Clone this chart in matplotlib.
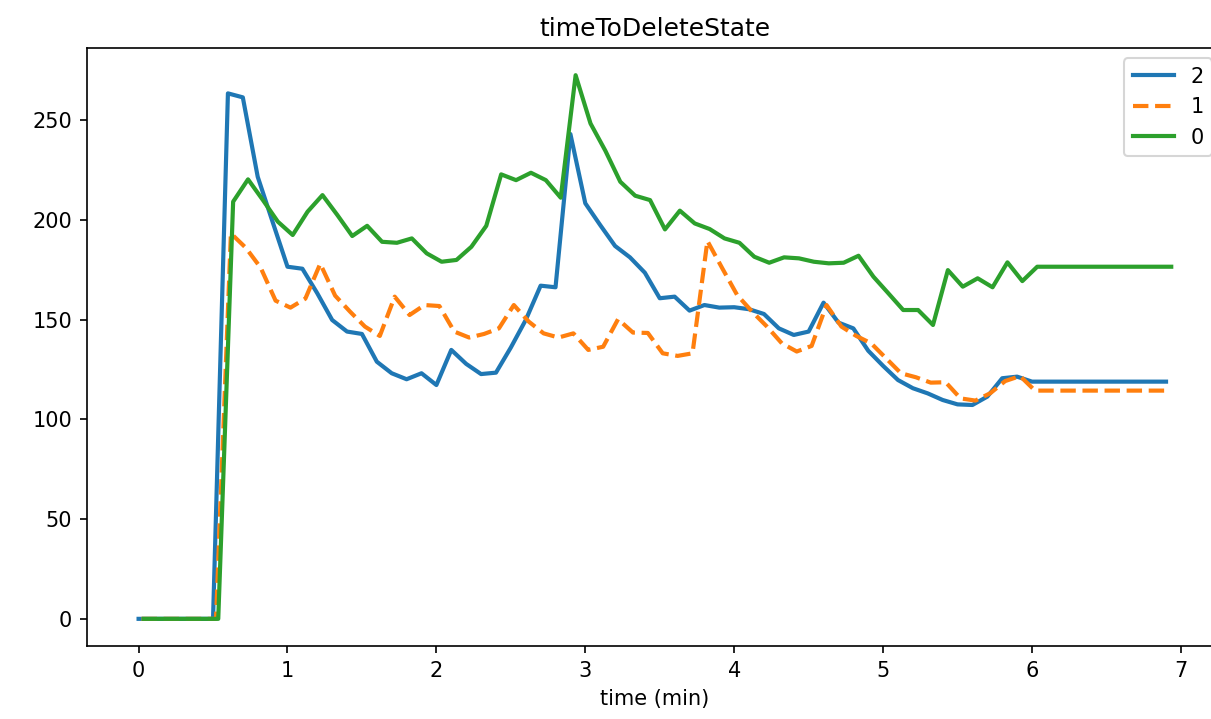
import numpy as np
import matplotlib
matplotlib.use('Agg')
import matplotlib.pyplot as plt

# Sample spacing is 0.1 min; each series has its own small start offset
step = 0.1
offset_2 = 0.0
offset_1 = 0.02
offset_0 = 0.035

# Series "2" (blue, solid)
vals_2 = [0, 0, 0, 0, 0, 0,
          263.4, 261.4, 221.6, 199, 176.5, 175.5, 163.2, 149.8, 144, 142.8,
          128.9, 123.1, 120.1, 123.1, 117.2, 134.8, 127.8, 122.7, 123.4, 136,
          149.8, 167, 166.2, 243, 208.3, 197.4, 186.9, 181.2, 173.5, 160.7,
          161.5, 154.5, 157.3, 156, 156.2, 155.2, 152.8, 145.6, 142.3, 144,
          158.5, 148.5, 145.6, 134.4, 126.8, 119.7, 115.6, 113, 109.7, 107.5,
          107.2, 111.4, 120.6, 121.4,
          118.9, 118.9, 118.9, 118.9, 118.9, 118.9, 118.9, 118.9, 118.9, 118.9]

# Series "1" (orange, dashed)
vals_1 = [0, 0, 0, 0, 0, 0,
          193.2, 186, 176, 159.5, 156, 160.5, 178, 162, 154, 146.5,
          141.8, 161.5, 152.3, 157.3, 156.8, 144, 141, 142.8, 145.6, 157.3,
          149, 143.1, 141, 143.1, 134.8, 136.4, 150.2, 143.5, 143.3, 133.1,
          131.8, 133.1, 189.4, 175.7, 162.3, 154, 146.5, 138.1, 134, 136.8,
          157.3, 146.5, 141.8, 138.1, 130.6, 123.1, 121.1, 118.4, 118.6, 110.5,
          109.4, 113.1, 119.2, 121.7,
          114.4, 114.4, 114.4, 114.4, 114.4, 114.4, 114.4, 114.4, 114.4, 114.4]

# Series "0" (green, solid)
vals_0 = [0, 0, 0, 0, 0, 0,
          209.1, 220.3, 209.9, 199.1, 192.4, 204.1, 212.4, 202.4, 191.9, 197,
          189, 188.5, 190.7, 183.2, 179, 179.9, 186.5, 197, 222.8, 219.9,
          223.6, 219.9, 211.1, 272.5, 248.3, 234.6, 219.1, 212.1, 209.9, 195.2,
          204.6, 198.2, 195.4, 190.7, 188.5, 181.5, 178.5, 181.2, 180.7, 179,
          178.2, 178.5, 182, 171.5, 163.2, 154.8, 154.8, 147.3, 174.8, 166.5,
          170.7, 166.2, 178.7, 169.3,
          176.5, 176.5, 176.5, 176.5, 176.5, 176.5, 176.5, 176.5, 176.5, 176.5]

t_2 = offset_2 + step * np.arange(len(vals_2))
t_1 = offset_1 + step * np.arange(len(vals_1))
t_0 = offset_0 + step * np.arange(len(vals_0))

fig = plt.figure(figsize=(1211 / 150, 719 / 150), dpi=150)
# axes run past the right edge, as in the original (cropped) image
ax = fig.add_axes([0.0718, 0.1015, 0.938, 0.8317])

ax.plot(t_2, vals_2, color='#1f77b4', linestyle='-', linewidth=2, label='2')
ax.plot(t_1, vals_1, color='#ff7f0e', linestyle='--', linewidth=2, label='1')
ax.plot(t_0, vals_0, color='#2ca02c', linestyle='-', linewidth=2, label='0')

ax.set_title('timeToDeleteState')
ax.set_xlabel('time (min)')
ax.set_yticks([0, 50, 100, 150, 200, 250])
ax.legend(loc='upper right')

fig.savefig('out.png', dpi=150)
